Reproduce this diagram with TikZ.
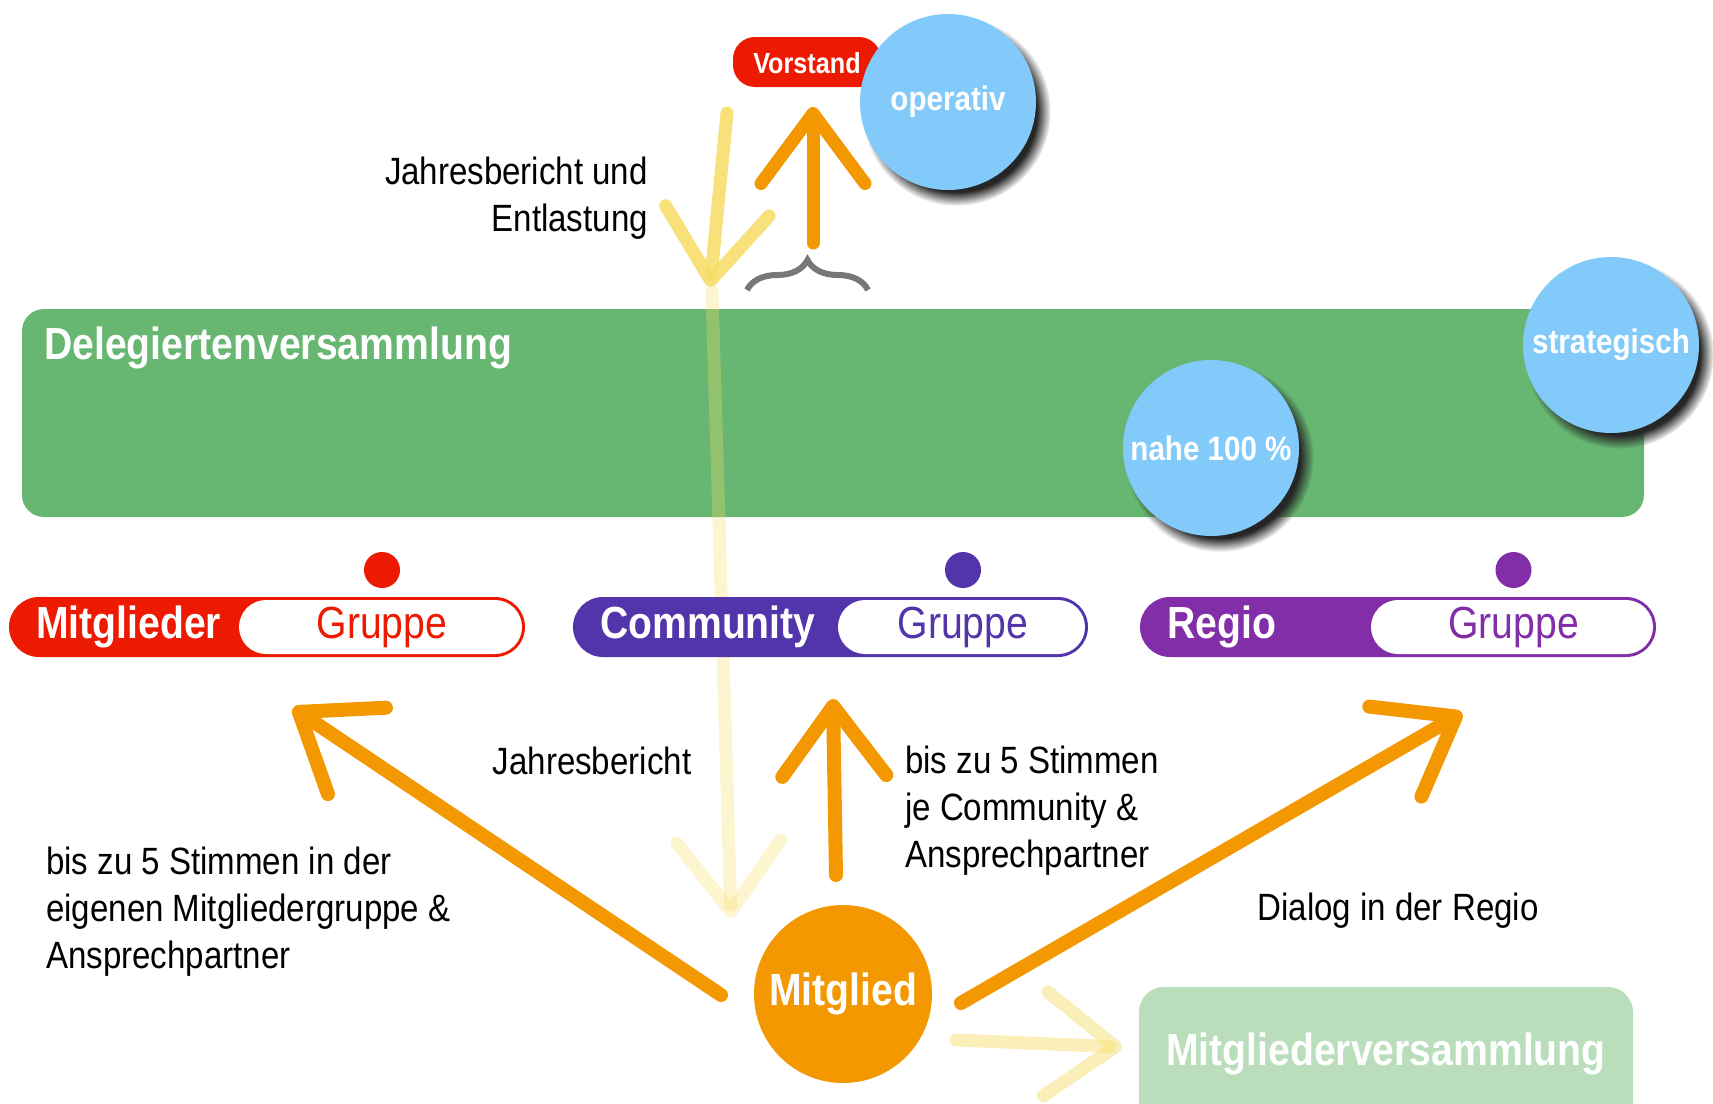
\documentclass[tikz,border=0pt]{standalone}
\usepackage{fontspec}
\setmainfont{Liberation Sans}[FakeStretch=0.87]
\usetikzlibrary{arrows.meta, shadows, decorations.pathreplacing}
\definecolor{deleggreen}{RGB}{103,183,114}
\definecolor{mvgreen}{RGB}{186,222,187}
\definecolor{bubbleblue}{RGB}{130,202,250}
\definecolor{voteorange}{RGB}{243,152,0}
\definecolor{reportyellow}{RGB}{247,220,100}
\definecolor{mgred}{RGB}{236,26,0}
\definecolor{cmpurple}{RGB}{82,53,170}
\definecolor{rgpurple}{RGB}{130,46,168}
\definecolor{bracegray}{RGB}{120,120,120}

\begin{document}
\begin{tikzpicture}[x=1pt, y=-1pt,
    bubble/.style={circle, fill=bubbleblue, minimum size=176pt, inner sep=0pt,
      text=white, font=\bfseries\fontsize{34}{40}\selectfont,
      circular drop shadow={shadow xshift=8pt, shadow yshift=-9pt, shadow scale=1.07, fill=black!85}},
    hint/.style={inner sep=0pt, font=\fontsize{38}{47}\selectfont, align=left},
    grouplabel/.style={inner sep=0pt, font=\fontsize{45}{50}\selectfont},
    votearrow/.style={draw=voteorange, line width=14pt, line cap=round,
      -{Straight Barb[length=70pt, width=104pt, round]}},
    reportarrow/.style={draw=reportyellow, line width=13pt, line cap=round,
      -{Straight Barb[length=70pt, width=104pt, round]}},
  ]
    \useasboundingbox (0,0) rectangle (1713,1103);
    % Delegiertenversammlung
    \fill[deleggreen, rounded corners=22pt] (22,309) rectangle (1644,517);
    \node[inner sep=0pt, anchor=west, text=white, font=\bfseries\fontsize{45}{50}\selectfont]
      (delegierte) at (44,348) {Delegiertenversammlung};
    % Jahresbericht (blass)
    \coordinate (reporttail) at (712,292);
    \coordinate (reporttip) at (731,918);
    \draw[reportarrow, opacity=0.3] (reporttail) -- (reporttip);
    % Gruppen
    \foreach \grp/\col/\xa/\xw/\xb in {Mitglieder/mgred/9/239/525, Community/cmpurple/573/838/1088, Regio/rgpurple/1140/1371/1656}{
      \fill[\col, rounded corners=30pt] (\xa,597) rectangle (\xb,657);
      \fill[white, rounded corners=27pt] (\xw,600) rectangle (\xb-3,654);
      \node[grouplabel, anchor=west, text=white, font=\bfseries\fontsize{45}{50}\selectfont]
        (\grp) at (\xa+27,627) {\grp};
      \node[grouplabel, text=\col] (\grp-gruppe) at ({(\xw+\xb)/2},627) {Gruppe};
      \fill[\col] ({(\xw+\xb)/2},570) circle (18pt);
    }
    % Vorstand
    \fill[mgred, rounded corners=22pt] (733,37) rectangle (881,87);
    \node[inner sep=0pt, text=white, font=\bfseries\fontsize{29}{34}\selectfont]
      (vorstand) at (807,63) {Vorstand};
    \node[bubble] (operativ) at (948,102) {operativ};
    \node[bubble] (strategisch) at (1611,345) {strategisch};
    \node[bubble] (nahe) at (1211,448) {nahe 100 \%};
    % Mitglied und Mitgliederversammlung
    \node[circle, fill=voteorange, minimum size=178pt, inner sep=0pt, text=white,
      font=\bfseries\fontsize{45}{50}\selectfont] (mitglied) at (843,994) {Mitglied};
    \fill[mvgreen, rounded corners=25pt] (1139,987) rectangle (1633,1140);
    \node[inner sep=0pt, text=white, font=\bfseries\fontsize{45}{50}\selectfont]
      (mv) at (1386,1054) {Mitgliederversammlung};
    % Pfeile
    \coordinate (entlasttail) at (727,113);
    \coordinate (entlasttip) at (710,287);
    \draw[reportarrow, opacity=0.85] (entlasttail) -- (entlasttip);
    \coordinate (wahltail) at (813,243);
    \coordinate (wahltip) at (813,107);
    \draw[votearrow, line width=13pt] (wahltail) -- (wahltip);
    \coordinate (mgtail) at (721,995);
    \coordinate (mgtip) at (293,708);
    \draw[votearrow] (mgtail) -- (mgtip);
    \coordinate (cmtail) at (836,875);
    \coordinate (cmtip) at (833,699);
    \draw[votearrow] (cmtail) -- (cmtip);
    \coordinate (rgtail) at (961,1003);
    \coordinate (rgtip) at (1462,713);
    \draw[votearrow] (rgtail) -- (rgtip);
    \coordinate (mvtail) at (956,1040);
    \coordinate (mvtip) at (1122,1047);
    \draw[reportarrow, opacity=0.45] (mvtail) -- (mvtip);
    % Klammer
    \draw[bracegray, line width=6pt, decorate, decoration={brace, amplitude=30pt}]
      (747,290) -- (868,290);
    % Beschriftungen
    \node[hint, align=right, anchor=east] (entlastung) at (648,198) {Jahresbericht und\\Entlastung};
    \node[hint] (bericht) at (592,761) {Jahresbericht};
    \node[hint, anchor=west] (cmstimmen) at (905,811) {bis zu 5 Stimmen\\je Community \&\\Ansprechpartner};
    \node[hint, anchor=west] (mgstimmen) at (46,912) {bis zu 5 Stimmen in der\\eigenen Mitgliedergruppe \&\\Ansprechpartner};
    \node[hint] (dialog) at (1398,911) {Dialog in der Regio};
\end{tikzpicture}
\end{document}
